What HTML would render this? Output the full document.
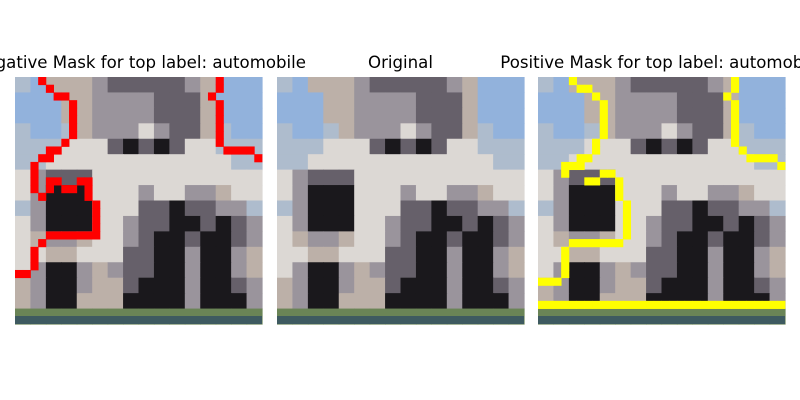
<!DOCTYPE html>
<html><head><meta charset="utf-8"><style>
body{margin:0;background:#fff;width:800px;height:400px;overflow:hidden}
svg{display:block}
text{font-family:"DejaVu Sans","Liberation Sans",sans-serif;font-size:16.6px;fill:#000}
</style></head><body>
<svg id="fig" width="800" height="400" viewBox="0 0 800 400">
<text x="139.5" y="68" text-anchor="middle">Negative Mask for top label: automobile</text>
<text x="400.5" y="68" text-anchor="middle">Original</text>
<text x="661.5" y="68" text-anchor="middle">Positive Mask for top label: automobile</text>
</svg>
<script>
const palette={B:"#92b2dc",b:"#aebccd",W:"#dcd8d4",G:"#bcb0a8",g:"#9a949c",d:"#66606a",K:"#1a181c",N:"#6a8456"};
const grid=[
"bBGGGgdddddgGBBB",
"BBBGGggggdddGBBB",
"BBBGGggggdddGBBB",
"bBBbGgggWgddGbBB",
"bbbWWWdKdKdWWbbb",
"bbWWWWWWWWWWWWbb",
"WgdddWWWWWWWWWWW",
"WgKKKWWWgWWggGWW",
"bgKKKWWWddKddggb",
"WgKKKWWgddKKdKdg",
"WGggGWWgdKKdKKdg",
"WWGGWWWddKKgKKgG",
"WgKKgGgddKKgKKgG",
"GgKKgGGdKKKgKKdg",
"GgKKGGGKKKKgKKKg",
"NNNNNNNNNNNNNNNN"];
const redCells=[[3,0],[4,1],[5,2],[6,2],[7,3],[7,4],[7,5],[7,6],[7,7],[6,8],[5,9],[4,9],[3,10],[4,10],[2,11],[2,12],[2,13],[2,14],[3,15],[4,13],[5,13],[4,14],[6,14],[7,14],[8,13],[9,13],[9,14],[9,15],[10,16],[10,17],[10,18],[10,19],[4,20],[5,20],[6,20],[7,20],[8,20],[9,20],[10,20],[3,21],[2,22],[2,23],[2,24],[0,25],[1,25],[26,0],[26,1],[25,2],[26,3],[26,4],[26,5],[26,6],[26,7],[26,8],[27,9],[28,9],[29,9],[30,9],[31,10]];
const yellowCells=[[4,0],[5,1],[6,1],[7,2],[8,3],[8,4],[8,5],[8,6],[8,7],[7,8],[7,9],[5,10],[6,10],[3,11],[4,11],[5,11],[3,12],[6,13],[7,13],[8,12],[9,12],[10,13],[10,14],[10,15],[11,16],[11,17],[11,18],[11,19],[11,20],[4,21],[5,21],[6,21],[7,21],[8,21],[9,21],[10,21],[3,22],[3,23],[3,24],[3,25],[0,26],[1,26],[2,26],[25,0],[25,1],[24,2],[25,3],[25,4],[25,5],[25,6],[25,7],[25,8],[26,9],[27,10],[28,10],[29,10],[30,10],[31,11]];
for(let c=0;c<32;c++)yellowCells.push([c,29]);
const svg=document.getElementById('fig');
const NS="http://www.w3.org/2000/svg";
const panels=[{x:15,name:'negative-mask-image',mask:redCells,col:'#ff0000'},{x:277,name:'original-image',mask:null},{x:538,name:'positive-mask-image',mask:yellowCells,col:'#ffff00'}];
const S=247,Y=77,cs=S/16,ps=S/32;
panels.forEach(p=>{
 const g=document.createElementNS(NS,'g');
 
 
 grid.forEach((row,r)=>{[...row].forEach((ch,c)=>{
  const rc=document.createElementNS(NS,'rect');
  rc.setAttribute('x',p.x+c*cs);rc.setAttribute('y',Y+r*cs);
  rc.setAttribute('width',cs+0.6);rc.setAttribute('height',cs+0.6);
  rc.setAttribute('fill',palette[ch]);g.appendChild(rc);
 });});
 const t=document.createElementNS(NS,'rect');
 t.setAttribute('x',p.x);t.setAttribute('y',Y+S-8);t.setAttribute('width',S);t.setAttribute('height',8);t.setAttribute('fill','#3e5a60');
 g.appendChild(t);
 if(p.mask){p.mask.forEach(([c,r])=>{
  const m=document.createElementNS(NS,'rect');
  m.setAttribute('x',p.x+c*ps);m.setAttribute('y',Y+r*ps);
  m.setAttribute('width',ps+0.4);m.setAttribute('height',ps+0.4);
  m.setAttribute('fill',p.col);g.appendChild(m);
 });}
 svg.insertBefore(g,svg.firstChild);
});
</script>
</body></html>
